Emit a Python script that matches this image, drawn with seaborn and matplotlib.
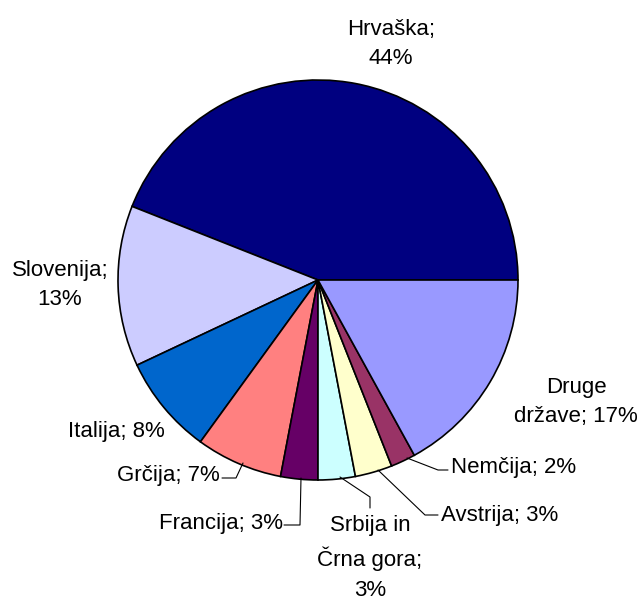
import matplotlib
matplotlib.use('Agg')
import matplotlib.pyplot as plt
import seaborn as sns

# Shares of visitors by country
countries = ['Hrvaška', 'Slovenija', 'Italija', 'Grčija', 'Francija',
             'Srbija in Črna gora', 'Avstrija', 'Nemčija', 'Druge države']
shares = [44, 13, 8, 7, 3, 3, 3, 2, 17]
colors = ['#000080', '#CCCCFF', '#0066CC', '#FF8080', '#660066',
          '#CCFFFF', '#FFFFCC', '#993366', '#9999FF']
label_texts = ['Hrvaška;\n44%', 'Slovenija;\n13%', 'Italija; 8%', 'Grčija; 7%',
               'Francija; 3%', 'Srbija in\nČrna gora;\n3%', 'Avstrija; 3%',
               'Nemčija; 2%', 'Druge\ndržave; 17%']

sns.set_style('white')
plt.rcParams['font.family'] = ['Liberation Sans', 'DejaVu Sans']

W, H = 637, 601
fig = plt.figure(figsize=(W / 100, H / 100), dpi=100)
ax = fig.add_axes([0, 0, 1, 1])

def py(y):
    # pixel row -> data y
    return H - y

ax.pie(shares, colors=colors, startangle=0, counterclock=True,
       center=(318, py(280)), radius=200,
       wedgeprops={'edgecolor': 'black', 'linewidth': 1.2})
ax.set_xlim(0, W)
ax.set_ylim(0, H)
ax.set_aspect('equal')
ax.axis('off')

# label positions (x, y in pixels, ha)
label_pos = [(391, 44, 'center'), (60, 285, 'center'), (165, 431, 'right'),
             (220, 476, 'right'), (283, 523, 'right'), (370, 558, 'center'),
             (441, 515, 'left'), (451, 468, 'left'), (576, 402, 'center')]
for txt, (x, y, ha) in zip(label_texts, label_pos):
    ax.text(x, py(y), txt, ha=ha, va='center', fontsize=16,
            linespacing=1.55, color='black')

# leader lines (pixel coords)
leaders = [
    [(222, 478), (236, 478), (243, 463)],
    [(284, 525), (300, 525), (301, 478)],
    [(340, 477), (370, 497), (370, 508)],
    [(378, 470), (425, 515), (438, 515)],
    [(407, 458), (438, 470), (448, 470)],
]
for pts in leaders:
    xs = [p[0] for p in pts]
    ys = [py(p[1]) for p in pts]
    ax.plot(xs, ys, color='black', linewidth=0.8)

fig.savefig('out.png', dpi=100, facecolor='white')
